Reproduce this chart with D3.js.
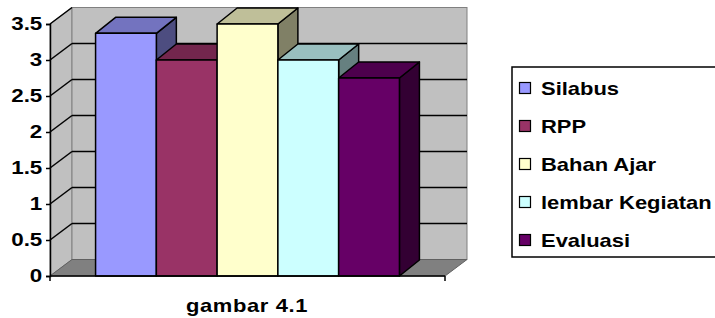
<!DOCTYPE html>
<html>
<head>
<meta charset="utf-8">
<script src="https://cdn.jsdelivr.net/npm/d3@7"></script>
<style>
  body { margin: 0; background: #fff; }
  svg { display: block; }
  text { font-family: "Liberation Sans", Arial, sans-serif; font-weight: bold; fill: #000; }
</style>
</head>
<body>
<div id="chart"></div>
<script>
const categories = ["Silabus", "RPP", "Bahan Ajar", "lembar Kegiatan", "Evaluasi"];
const values = [3.37, 3.0, 3.5, 3.0, 2.75];
const colors = ["#9999FF", "#993366", "#FFFFCC", "#CCFFFF", "#660066"];
const yTicks = [0, 0.5, 1, 1.5, 2, 2.5, 3, 3.5];
const xTitle = "gambar 4.1";

const width = 715, height = 318;
const plotL = 50, plotR = 445, plotT = 24, plotB = 276;
// depth of the 3D box (walls) and of the bars
const wdx = 22, wdy = 16.5;
const bdx = 20, bdy = 16;
// the original text is drawn a bit wide
const stretch = 1.22;

const svg = d3.select("#chart").append("svg")
  .attr("width", width)
  .attr("height", height);

const y = d3.scaleLinear().domain([0, 3.5]).range([plotB, plotT]);
const x = d3.scaleBand().domain(categories).range([plotL, plotR])
  .paddingInner(0).paddingOuter(0.75);

// side wall
svg.append("path")
  .attr("d", `M${plotL},${y(3.5)}L${plotL + wdx},${y(3.5) - wdy}L${plotL + wdx},${y(0) - wdy}L${plotL},${y(0)}Z`)
  .attr("fill", "#C0C0C0").attr("stroke", "#808080");
// back wall
svg.append("rect")
  .attr("x", plotL + wdx).attr("y", y(3.5) - wdy)
  .attr("width", plotR - plotL).attr("height", y(0) - y(3.5))
  .attr("fill", "#C0C0C0").attr("stroke", "#808080");
// floor
svg.append("path")
  .attr("d", `M${plotL},${y(0)}L${plotL + wdx},${y(0) - wdy}L${plotR + wdx},${y(0) - wdy}L${plotR},${y(0)}Z`)
  .attr("fill", "#808080").attr("stroke", "#606060");

// gridlines on walls
const grid = svg.append("g").attr("stroke", "#000").attr("stroke-width", 1.5);
yTicks.filter(d => d > 0 && d < 3.5).forEach(d => {
  grid.append("line")
    .attr("x1", plotL + wdx).attr("x2", plotR + wdx)
    .attr("y1", y(d) - wdy).attr("y2", y(d) - wdy);
});
yTicks.filter(d => d > 0).forEach(d => {
  grid.append("line")
    .attr("x1", plotL).attr("x2", plotL + wdx)
    .attr("y1", y(d)).attr("y2", y(d) - wdy);
});

// bars
const shade = (c, k) => { const o = d3.rgb(c); return d3.rgb(o.r * k, o.g * k, o.b * k).toString(); };
const bars = svg.append("g").attr("stroke", "#000").attr("stroke-width", 1.5).attr("stroke-linejoin", "round");
categories.forEach((c, i) => {
  const x0 = x(c), x1 = x(c) + x.bandwidth();
  const yt = y(values[i]), yb = y(0);
  bars.append("path")
    .attr("d", `M${x1},${yt}L${x1 + bdx},${yt - bdy}L${x1 + bdx},${yb - bdy}L${x1},${yb}Z`)
    .attr("fill", shade(colors[i], 0.5));
  bars.append("path")
    .attr("d", `M${x0},${yt}L${x0 + bdx},${yt - bdy}L${x1 + bdx},${yt - bdy}L${x1},${yt}Z`)
    .attr("fill", shade(colors[i], 0.75));
  bars.append("rect")
    .attr("x", x0).attr("y", yt)
    .attr("width", x.bandwidth()).attr("height", yb - yt)
    .attr("fill", colors[i]);
});

// y axis
const yAxis = svg.append("g")
  .attr("transform", `translate(${plotL},0)`)
  .call(d3.axisLeft(y).tickValues(yTicks).tickFormat(d3.format("~g")).tickSize(4).tickPadding(2));
yAxis.select(".domain").attr("stroke", "#000").attr("stroke-width", 1.5);
yAxis.selectAll(".tick line").attr("stroke", "#000").attr("stroke-width", 1.5);
yAxis.selectAll(".tick text")
  .attr("font-size", 17.5).attr("font-family", null).attr("dy", "0.3em")
  .attr("transform", "scale(1.28,1)");

// x axis (front floor edge)
const xAxis = svg.append("g").attr("stroke", "#000").attr("stroke-width", 1.5);
xAxis.append("line").attr("x1", plotL).attr("x2", plotR).attr("y1", y(0)).attr("y2", y(0));
[plotL, plotR].forEach(px => {
  xAxis.append("line").attr("x1", px).attr("x2", px).attr("y1", y(0)).attr("y2", y(0) + 5);
});

svg.append("text")
  .attr("transform", `translate(247,312) scale(${stretch},1)`)
  .attr("text-anchor", "middle")
  .attr("font-size", 18)
  .attr("letter-spacing", 0.5)
  .text(xTitle);

// legend
const legend = svg.append("g");
legend.append("rect")
  .attr("x", 512).attr("y", 67).attr("width", 230).attr("height", 190)
  .attr("fill", "#fff").attr("stroke", "#000").attr("stroke-width", 1.5);
categories.forEach((c, i) => {
  const by = 95 + i * 38;
  legend.append("rect")
    .attr("x", 519.5).attr("y", by - 12.5).attr("width", 11).attr("height", 11)
    .attr("fill", colors[i]).attr("stroke", "#000").attr("stroke-width", 1.2);
  legend.append("text")
    .attr("transform", `translate(541,${by}) scale(${stretch},1)`)
    .attr("font-size", 18)
    .text(c);
});
</script>
</body>
</html>
